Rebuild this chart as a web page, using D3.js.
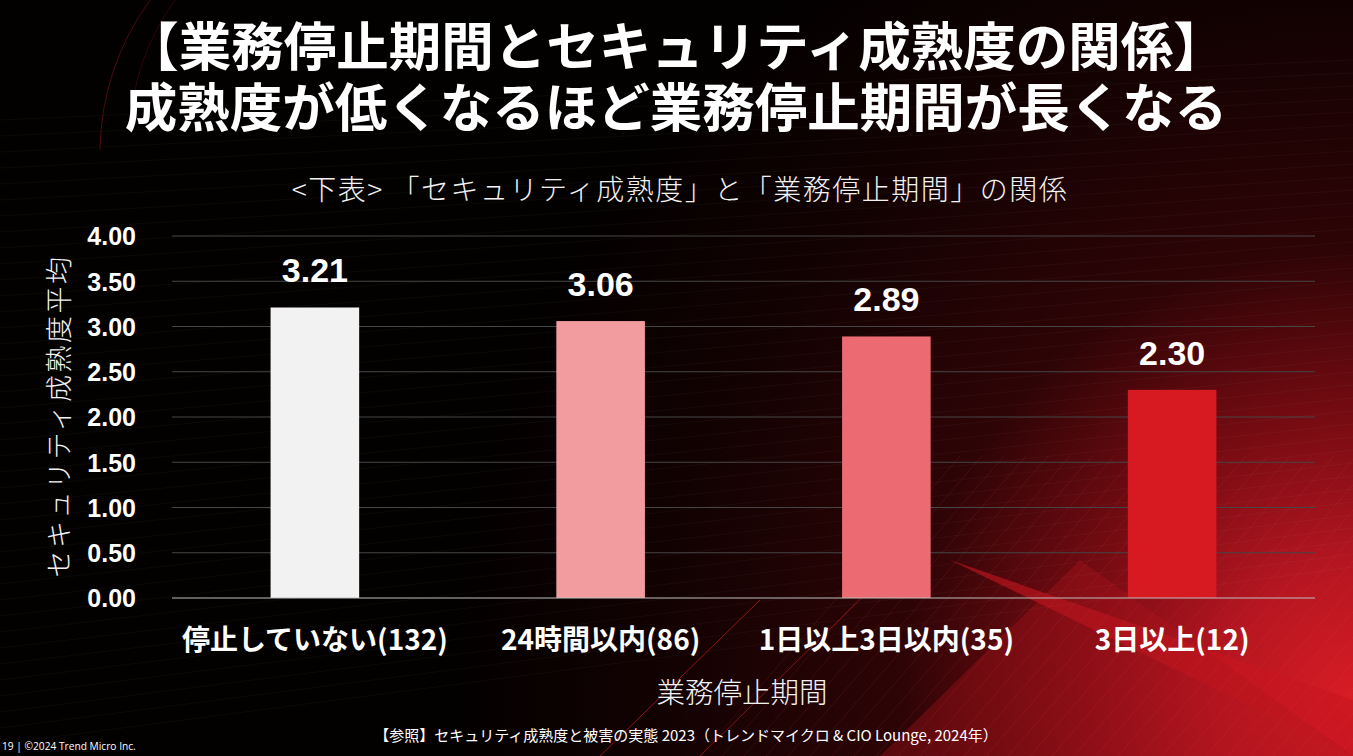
<!DOCTYPE html>
<html><head><meta charset="utf-8">
<script src="https://cdn.jsdelivr.net/npm/d3@7"></script>
<style>html,body{margin:0;padding:0;background:#000;overflow:hidden}</style>
</head><body>
<script>
const categories = ["停止していない(132)", "24時間以内(86)", "1日以上3日以内(35)", "3日以上(12)"];
const values = [3.21, 3.06, 2.89, 2.30];
const barColors = ["#f2f2f2", "#f29ca0", "#ec6b72", "#d71a22"];
const yTicks = [0, 0.5, 1, 1.5, 2, 2.5, 3, 3.5, 4];
const titleLines = ["【業務停止期間とセキュリティ成熟度の関係】", "成熟度が低くなるほど業務停止期間が長くなる"];
const subtitle = "<下表> 「セキュリティ成熟度」と「業務停止期間」の関係";
const yTitle = "セキュリティ成熟度平均";
const xTitle = "業務停止期間";
const footLeft = "19 | ©2024 Trend Micro Inc.";
const footRef = "【参照】セキュリティ成熟度と被害の実態 2023（トレンドマイクロ & CIO Lounge, 2024年）";

const W = 1353, H = 756;
const jp = "'Noto Sans CJK JP','Noto Sans',sans-serif";
const num = "'Liberation Sans',Arial,sans-serif";
const svg = d3.select("body").append("svg").attr("width", W).attr("height", H);
const defs = svg.append("defs");

// Background
svg.append("rect").attr("width",W).attr("height",H).attr("fill","#030000");
const rg = defs.append("radialGradient").attr("id","glow").attr("gradientUnits","userSpaceOnUse")
  .attr("cx",W).attr("cy",700).attr("r",900);
[[0,"#d81c24"],[0.15,"#b51621"],[0.3,"#7c0c13"],[0.5,"#2e0406"],[0.75,"#140202"],[1,"#030000"]]
  .forEach(([o,c]) => rg.append("stop").attr("offset",o).attr("stop-color",c));
svg.append("rect").attr("width",W).attr("height",H).attr("fill","url(#glow)");
// decorative wedges
svg.append("path").attr("d","M950,560 L1353,756 L1353,700 Z").attr("fill","#c8161f").attr("opacity",0.6);
svg.append("path").attr("d","M880,756 L1080,560 L1353,756 Z").attr("fill","#b0141c").attr("opacity",0.35);
// decorative arcs top-left
svg.append("path").attr("d","M150,0 A260,260 0 0 0 100,150").attr("fill","none").attr("stroke","#5a1010").attr("stroke-width",1).attr("opacity",0.8);
svg.append("path").attr("d","M175,0 A240,240 0 0 0 130,130").attr("fill","none").attr("stroke","#3a0a0a").attr("stroke-width",1).attr("opacity",0.8);
// decorative thin lines
const deco = svg.append("g").attr("stroke","#fff").attr("stroke-width",0.6);
for (let i = 0; i < 40; i++) {
  const y0 = 120 + i * 16;
  deco.append("line").attr("x1",0).attr("y1",y0).attr("x2",W).attr("y2",y0 - 60 - i*3).attr("opacity",0.05);
}
const deco2 = svg.append("g").attr("stroke","#ff5a60").attr("stroke-width",0.8);
for (let i = 0; i < 30; i++) {
  const x0 = 700 + i * 22;
  deco2.append("line").attr("x1",x0).attr("y1",H).attr("x2",x0 + 260).attr("y2",H - 300).attr("opacity",0.12);
}
svg.append("line").attr("x1",600).attr("y1",H).attr("x2",760).attr("y2",600).attr("stroke","#e0222a").attr("stroke-width",1).attr("opacity",0.6);
svg.append("line").attr("x1",700).attr("y1",H).attr("x2",880).attr("y2",580).attr("stroke","#e0222a").attr("stroke-width",1).attr("opacity",0.5);

// Scales
const x = d3.scaleBand().domain(categories).range([172, 1315]).paddingInner(0.69).paddingOuter(0.345);
const y = d3.scaleLinear().domain([0, 4]).range([598, 236]);

// Gridlines
svg.append("g").selectAll("line").data(yTicks.filter(d => d > 0)).join("line")
  .attr("x1",172).attr("x2",1315).attr("y1",d=>y(d)).attr("y2",d=>y(d))
  .attr("stroke","#464646").attr("stroke-width",1);

// Bars
svg.append("g").selectAll("rect").data(values).join("rect")
  .attr("x",(d,i)=>x(categories[i])).attr("width",x.bandwidth())
  .attr("y",d=>y(d)).attr("height",d=>y(0)-y(d))
  .attr("fill",(d,i)=>barColors[i]);

// Baseline
svg.append("line").attr("x1",172).attr("x2",1315).attr("y1",y(0)).attr("y2",y(0)).attr("stroke","#bfbfbf").attr("stroke-width",1);

// Y axis tick labels
const yAxis = d3.axisLeft(y).tickValues(yTicks).tickFormat(d3.format(".2f")).tickSize(0).tickPadding(0);
const ya = svg.append("g").attr("transform","translate(136,0)").call(yAxis);
ya.select(".domain").remove();
ya.selectAll("text").attr("fill","#fff").attr("font-family",num)
  .attr("font-weight","bold").attr("font-size",25).attr("dy","0.35em");

// X axis labels
const xAxis = d3.axisBottom(x).tickSize(0).tickPadding(0);
const xa = svg.append("g").attr("transform","translate(0,640)").call(xAxis);
xa.select(".domain").remove();
xa.selectAll("text").attr("fill","#fff").attr("font-family",jp).attr("font-weight","bold")
  .attr("font-size",28).attr("dy","0.35em").attr("y",0);

// Value labels
svg.append("g").selectAll("text").data(values).join("text")
  .attr("x",(d,i)=>x(categories[i]) + x.bandwidth()/2).attr("y",d=>y(d)-25)
  .attr("text-anchor","middle").attr("fill","#fff").attr("font-family",num)
  .attr("font-weight","bold").attr("font-size",34).text(d=>d3.format(".2f")(d));

// Title (one text block, two lines)
const title = svg.append("text").attr("text-anchor","middle")
  .attr("fill","#fff").attr("font-family",jp).attr("font-weight","bold").attr("font-size",52.5);
title.selectAll("tspan").data(titleLines).join("tspan")
  .attr("x",676).attr("y",(d,i)=>66 + i*61).text(d=>d);
svg.append("text").attr("x",680).attr("y",200).attr("text-anchor","middle").attr("fill","#f2f2f2")
  .attr("font-family",jp).attr("font-weight",300).attr("font-size",28).attr("letter-spacing",1.5).text(subtitle);

// Axis titles
svg.append("text").attr("transform","translate(57,416) rotate(-90)").attr("text-anchor","middle")
  .attr("dominant-baseline","central")
  .attr("fill","#f2f2f2").attr("font-family",jp).attr("font-weight",300).attr("font-size",27).attr("letter-spacing",2.5).text(yTitle);
svg.append("text").attr("x",742).attr("y",690).attr("text-anchor","middle").attr("dominant-baseline","central")
  .attr("fill","#f2f2f2").attr("font-family",jp).attr("font-weight",300).attr("font-size",28.5).text(xTitle);

// Footers
svg.append("text").attr("x",2).attr("y",750).attr("fill","#fff").attr("font-family","'Open Sans',sans-serif")
  .attr("font-size",10.2).text(footLeft);
svg.append("text").attr("x",686).attr("y",741).attr("text-anchor","middle").attr("fill","#fff")
  .attr("font-family",jp).attr("font-size",15).text(footRef);
</script>
</body></html>
